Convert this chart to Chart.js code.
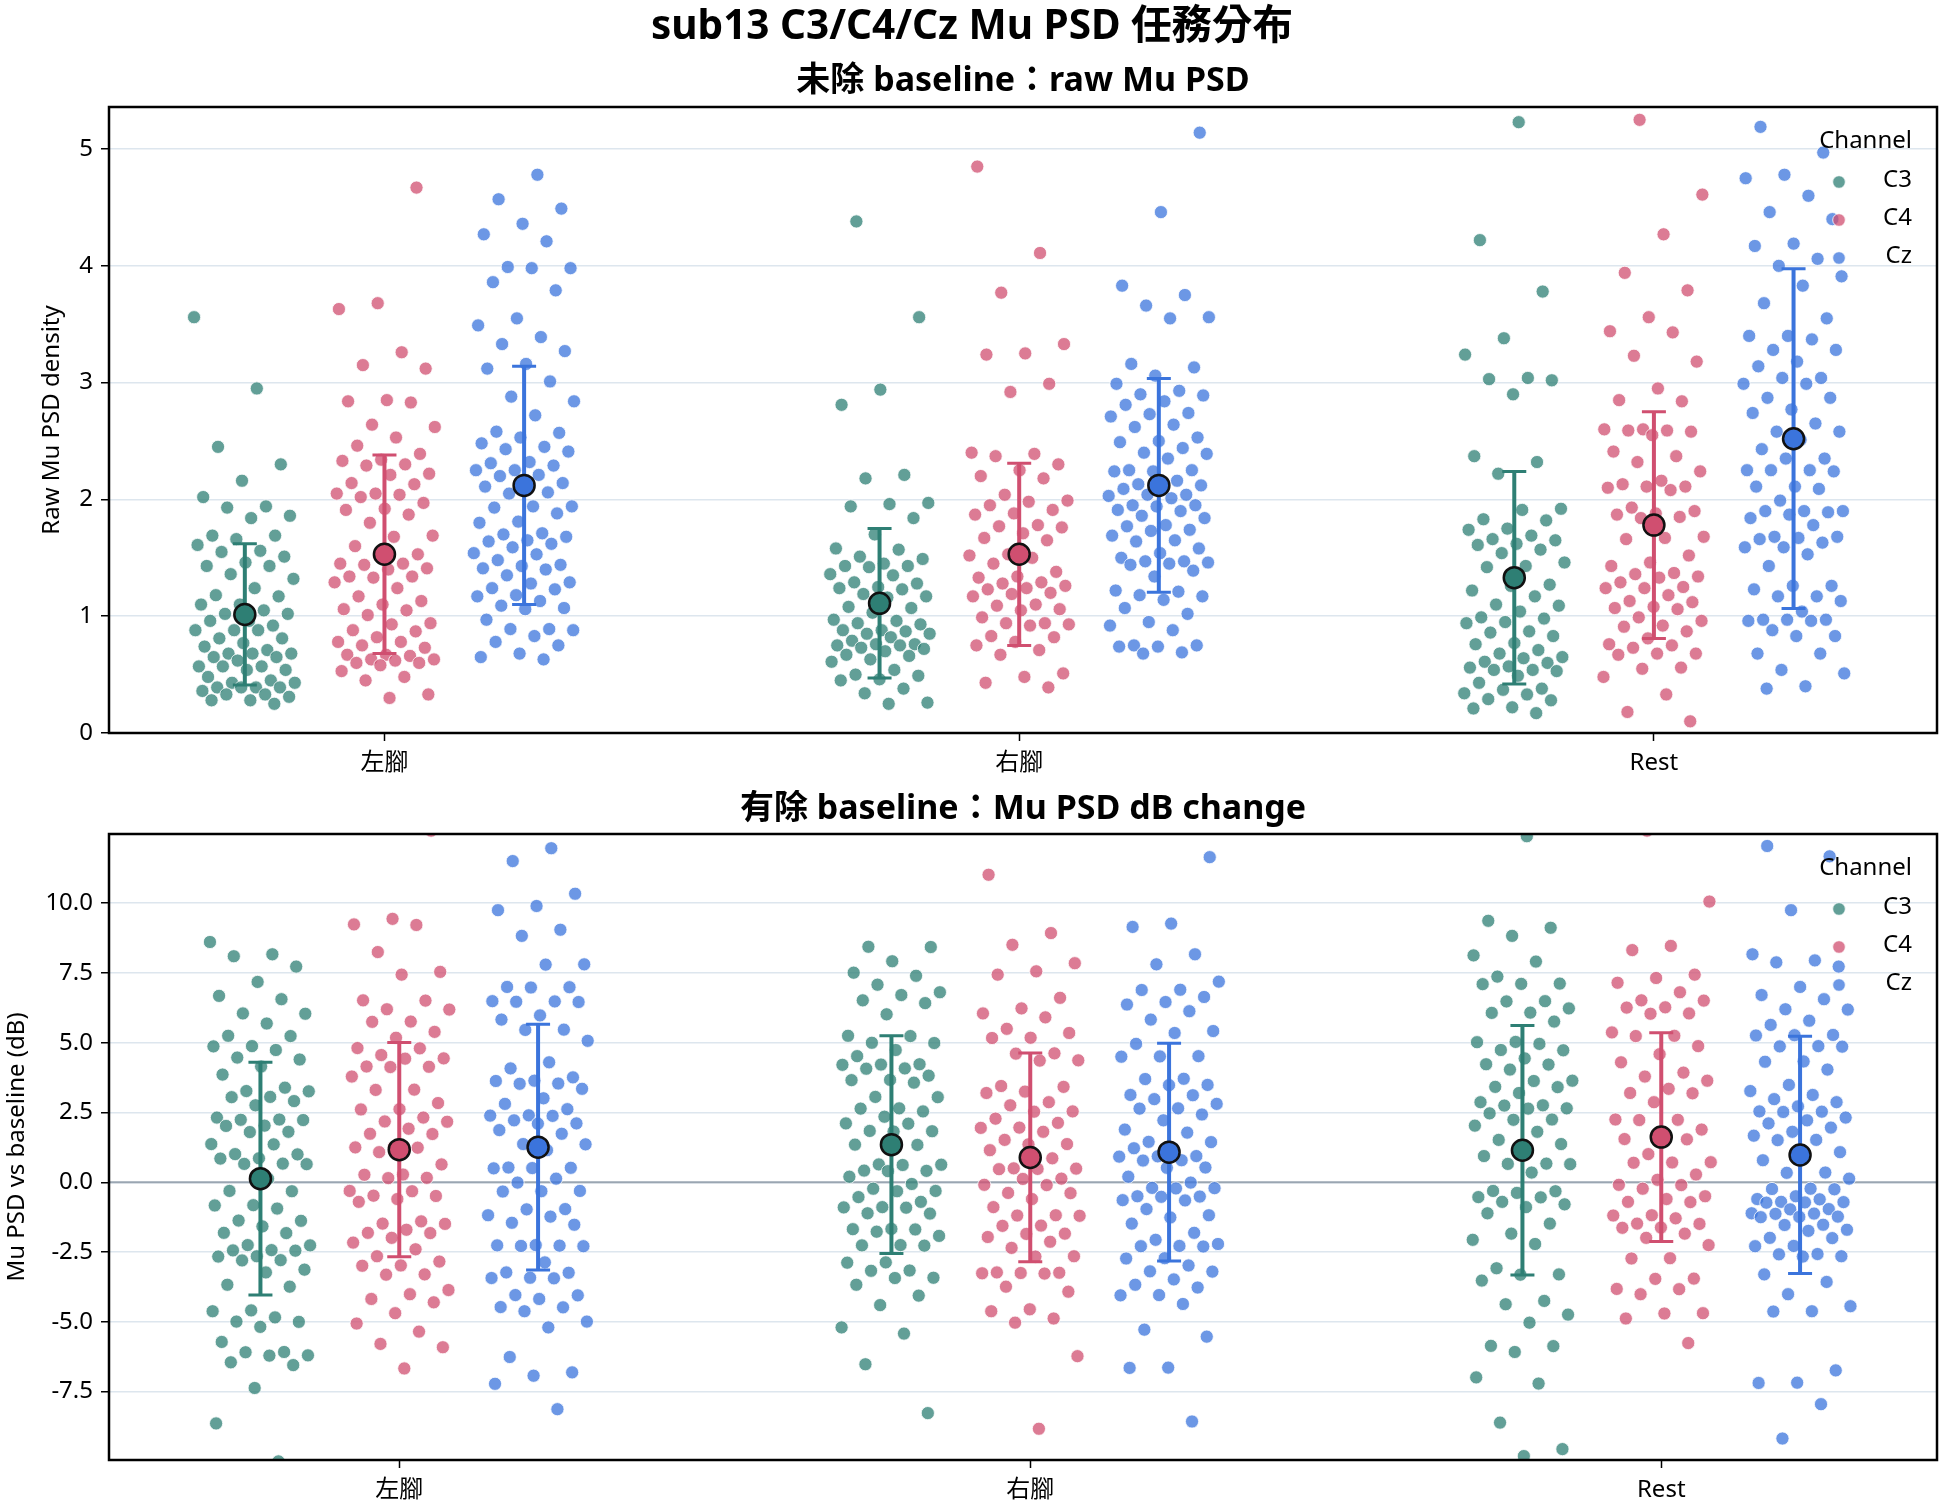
<!DOCTYPE html>
<html>
<head>
<meta charset="utf-8">
<script src="https://cdn.jsdelivr.net/npm/chart.js@4.4.1/dist/chart.umd.min.js"></script>
<style>
  html, body { margin: 0; padding: 0; background: #fff; }
  #wrap { position: relative; width: 1944px; height: 1512px; background: #fff; }
  canvas { position: absolute; left: 0; }
</style>
</head>
<body>
<div id="wrap">
  <canvas id="rawChart" width="1944" height="790" style="top:0"></canvas>
  <canvas id="dbChart" width="1944" height="722" style="top:790px"></canvas>
</div>
<script>
const categories = ['左腳', '右腳', 'Rest'];
const channels = ['C3', 'C4', 'Cz'];
const channelColors = ['#2e7f74', '#d04f70', '#3b74dc'];
const pointColors = ['rgba(46,127,116,0.75)', 'rgba(208,79,112,0.75)', 'rgba(59,116,220,0.75)'];

const rawTicks = [0, 1, 2, 3, 4, 5];
const dbTicks = [-7.5, -5, -2.5, 0, 2.5, 5, 7.5, 10];

// 未除 baseline：raw Mu PSD（每個 trial）
const rawC3Left = [3.56, 2.95, 2.45, 2.30, 2.16, 2.02, 1.94, 1.93, 1.86, 1.84, 1.69, 1.69, 1.66, 1.61, 1.56, 1.55, 1.51, 1.46, 1.43, 1.43, 1.36, 1.32, 1.24, 1.18, 1.17, 1.10, 1.10, 1.05, 1.02, 1.02, 0.96, 0.96, 0.92, 0.88, 0.88, 0.88, 0.81, 0.81, 0.77, 0.74, 0.71, 0.68, 0.68, 0.68, 0.65, 0.65, 0.62, 0.57, 0.57, 0.57, 0.54, 0.54, 0.48, 0.45, 0.43, 0.43, 0.39, 0.39, 0.39, 0.39, 0.36, 0.33, 0.33, 0.31, 0.28, 0.28, 0.25];
const rawC4Left = [4.67, 3.68, 3.63, 3.26, 3.15, 3.12, 2.85, 2.84, 2.83, 2.64, 2.62, 2.53, 2.46, 2.39, 2.34, 2.33, 2.30, 2.29, 2.22, 2.21, 2.14, 2.13, 2.05, 2.05, 2.04, 2.02, 1.97, 1.92, 1.91, 1.87, 1.80, 1.69, 1.68, 1.60, 1.53, 1.52, 1.45, 1.45, 1.44, 1.41, 1.40, 1.34, 1.34, 1.33, 1.29, 1.24, 1.17, 1.13, 1.10, 1.06, 1.05, 1.01, 0.94, 0.93, 0.88, 0.87, 0.82, 0.78, 0.78, 0.75, 0.73, 0.67, 0.67, 0.66, 0.63, 0.63, 0.62, 0.60, 0.60, 0.58, 0.53, 0.48, 0.45, 0.33, 0.30];
const rawCzLeft = [4.78, 4.57, 4.49, 4.36, 4.27, 4.21, 3.99, 3.98, 3.98, 3.86, 3.79, 3.55, 3.49, 3.39, 3.33, 3.27, 3.16, 3.12, 3.01, 2.88, 2.84, 2.72, 2.58, 2.57, 2.53, 2.48, 2.45, 2.43, 2.41, 2.32, 2.31, 2.29, 2.25, 2.25, 2.21, 2.20, 2.14, 2.12, 2.11, 2.06, 2.05, 1.94, 1.94, 1.93, 1.88, 1.81, 1.80, 1.71, 1.70, 1.68, 1.65, 1.64, 1.62, 1.59, 1.54, 1.53, 1.48, 1.44, 1.43, 1.41, 1.40, 1.35, 1.29, 1.28, 1.24, 1.23, 1.18, 1.17, 1.13, 1.09, 1.07, 1.06, 0.97, 0.89, 0.89, 0.88, 0.83, 0.78, 0.75, 0.68, 0.65, 0.63];
const rawC3Right = [4.38, 3.56, 2.94, 2.81, 2.21, 2.18, 1.97, 1.96, 1.94, 1.84, 1.70, 1.58, 1.57, 1.51, 1.49, 1.45, 1.43, 1.43, 1.42, 1.36, 1.35, 1.29, 1.28, 1.25, 1.24, 1.23, 1.19, 1.17, 1.16, 1.08, 1.07, 1.03, 0.97, 0.96, 0.94, 0.93, 0.88, 0.88, 0.87, 0.85, 0.85, 0.82, 0.79, 0.76, 0.76, 0.75, 0.75, 0.73, 0.72, 0.70, 0.67, 0.66, 0.63, 0.61, 0.54, 0.50, 0.49, 0.46, 0.45, 0.38, 0.34, 0.26, 0.25];
const rawC4Right = [4.85, 4.11, 3.77, 3.33, 3.25, 3.24, 2.99, 2.92, 2.40, 2.39, 2.37, 2.30, 2.25, 2.20, 2.18, 2.04, 1.99, 1.98, 1.95, 1.91, 1.88, 1.87, 1.78, 1.77, 1.76, 1.71, 1.67, 1.65, 1.53, 1.52, 1.50, 1.45, 1.38, 1.34, 1.33, 1.29, 1.28, 1.26, 1.24, 1.23, 1.20, 1.19, 1.17, 1.10, 1.09, 1.06, 1.05, 0.99, 0.94, 0.94, 0.93, 0.92, 0.83, 0.82, 0.78, 0.75, 0.71, 0.67, 0.51, 0.48, 0.43, 0.39];
const rawCzRight = [5.14, 4.46, 3.83, 3.75, 3.66, 3.56, 3.55, 3.16, 3.13, 3.06, 2.99, 2.93, 2.90, 2.89, 2.84, 2.81, 2.74, 2.73, 2.71, 2.64, 2.62, 2.53, 2.50, 2.49, 2.44, 2.40, 2.39, 2.35, 2.25, 2.25, 2.24, 2.24, 2.16, 2.13, 2.12, 2.10, 2.09, 2.04, 2.04, 2.03, 2.01, 1.95, 1.95, 1.94, 1.91, 1.90, 1.86, 1.84, 1.78, 1.77, 1.74, 1.73, 1.69, 1.65, 1.64, 1.58, 1.54, 1.50, 1.47, 1.47, 1.46, 1.45, 1.44, 1.39, 1.34, 1.22, 1.21, 1.18, 1.17, 1.14, 1.07, 1.02, 0.95, 0.92, 0.88, 0.75, 0.75, 0.74, 0.74, 0.69, 0.68];
const rawC3Rest = [5.23, 4.22, 3.78, 3.38, 3.24, 3.04, 3.03, 3.02, 2.90, 2.37, 2.32, 2.22, 1.92, 1.91, 1.83, 1.82, 1.75, 1.74, 1.69, 1.66, 1.65, 1.62, 1.61, 1.57, 1.54, 1.46, 1.43, 1.42, 1.27, 1.26, 1.22, 1.17, 1.10, 1.09, 1.04, 0.99, 0.98, 0.95, 0.94, 0.87, 0.86, 0.83, 0.77, 0.76, 0.71, 0.68, 0.65, 0.64, 0.61, 0.60, 0.57, 0.56, 0.54, 0.54, 0.53, 0.49, 0.43, 0.38, 0.37, 0.34, 0.33, 0.29, 0.28, 0.22, 0.21, 0.17];
const rawC4Rest = [5.25, 4.61, 4.27, 3.94, 3.79, 3.56, 3.44, 3.43, 3.23, 3.18, 2.95, 2.85, 2.84, 2.60, 2.60, 2.59, 2.59, 2.58, 2.55, 2.41, 2.37, 2.32, 2.24, 2.16, 2.13, 2.11, 2.11, 2.10, 2.08, 1.93, 1.90, 1.88, 1.87, 1.85, 1.84, 1.68, 1.67, 1.66, 1.52, 1.46, 1.43, 1.37, 1.36, 1.34, 1.33, 1.29, 1.25, 1.24, 1.24, 1.18, 1.13, 1.12, 1.08, 1.07, 1.06, 0.99, 0.96, 0.92, 0.91, 0.87, 0.81, 0.76, 0.75, 0.73, 0.68, 0.68, 0.67, 0.56, 0.55, 0.48, 0.33, 0.18, 0.10];
const rawCzRest = [5.19, 4.97, 4.78, 4.75, 4.60, 4.46, 4.40, 4.19, 4.17, 4.06, 4.00, 3.91, 3.83, 3.68, 3.55, 3.40, 3.40, 3.37, 3.28, 3.28, 3.18, 3.14, 3.04, 3.04, 2.99, 2.99, 2.87, 2.87, 2.77, 2.74, 2.65, 2.58, 2.58, 2.51, 2.43, 2.35, 2.35, 2.25, 2.25, 2.25, 2.24, 2.11, 2.11, 2.09, 1.99, 1.90, 1.90, 1.90, 1.89, 1.87, 1.84, 1.78, 1.68, 1.68, 1.67, 1.66, 1.63, 1.59, 1.59, 1.53, 1.43, 1.26, 1.26, 1.23, 1.17, 1.17, 1.13, 1.04, 0.97, 0.97, 0.97, 0.96, 0.96, 0.88, 0.83, 0.83, 0.68, 0.68, 0.54, 0.51, 0.40, 0.38];

// 每個 channel：[左腳, 右腳, Rest] 的平均與標準差
const rawMeanC3 = [1.015, 1.11, 1.33];
const rawMeanC4 = [1.53, 1.53, 1.78];
const rawMeanCz = [2.12, 2.12, 2.52];
const rawSdC3 = [0.605, 0.64, 0.91];
const rawSdC4 = [0.85, 0.78, 0.97];
const rawSdCz = [1.02, 0.915, 1.455];

// 有除 baseline：Mu PSD dB change
const dbC3Left = [8.61, 8.17, 8.10, 7.73, 7.18, 6.68, 6.56, 6.05, 6.04, 5.69, 5.25, 5.24, 4.88, 4.87, 4.74, 4.47, 4.40, 4.15, 3.86, 3.39, 3.27, 3.26, 3.06, 3.05, 2.91, 2.76, 2.32, 2.25, 2.24, 2.23, 2.03, 2.02, 1.81, 1.80, 1.37, 1.36, 1.01, 1.00, 0.86, 0.85, 0.67, 0.66, 0.65, 0.13, -0.31, -0.32, -0.82, -0.83, -0.94, -1.37, -1.38, -1.58, -1.81, -1.82, -2.25, -2.26, -2.43, -2.44, -2.45, -2.65, -2.66, -2.79, -2.80, -3.13, -3.23, -3.67, -3.74, -4.59, -4.62, -4.84, -4.99, -5.00, -5.18, -5.72, -6.08, -6.09, -6.20, -6.21, -6.45, -6.55, -7.37, -8.64, -10.0];
const dbC4Left = [12.6, 9.44, 9.24, 9.22, 8.25, 7.54, 7.44, 6.52, 6.51, 6.20, 6.19, 5.76, 5.75, 5.39, 5.18, 4.81, 4.80, 4.56, 4.44, 4.43, 4.15, 4.14, 4.13, 3.79, 3.32, 3.31, 2.84, 2.62, 2.61, 2.32, 2.18, 2.17, 1.92, 1.74, 1.73, 1.26, 1.25, 1.24, 1.08, 0.64, 0.28, 0.27, 0.16, 0.15, -0.31, -0.32, -0.48, -0.49, -0.60, -0.70, -1.40, -1.48, -1.49, -1.70, -1.81, -1.82, -1.99, -2.16, -2.40, -2.65, -2.84, -2.98, -2.99, -3.30, -3.31, -3.86, -4.01, -4.18, -4.30, -4.69, -5.06, -5.35, -5.79, -5.91, -6.67];
const dbCzLeft = [11.97, 11.51, 10.34, 9.90, 9.75, 9.05, 8.83, 7.81, 7.80, 7.00, 6.99, 6.98, 6.49, 6.48, 6.47, 6.46, 5.98, 5.83, 5.47, 5.46, 5.07, 4.30, 4.08, 3.76, 3.64, 3.63, 3.54, 3.53, 3.35, 3.01, 2.81, 2.62, 2.40, 2.39, 2.38, 2.22, 2.11, 2.10, 1.87, 1.74, 1.37, 1.36, 1.15, 0.53, 0.52, 0.51, 0.50, 0.13, -0.01, -0.31, -0.32, -0.33, -0.96, -0.97, -1.18, -1.23, -1.45, -1.52, -2.25, -2.26, -2.27, -2.28, -2.29, -2.87, -3.23, -3.24, -3.42, -3.43, -3.44, -4.04, -4.05, -4.18, -4.47, -4.48, -4.62, -4.99, -5.20, -6.26, -6.81, -6.93, -7.22, -8.13];
const dbC3Right = [8.44, 8.43, 7.92, 7.51, 7.40, 7.08, 6.81, 6.71, 6.52, 6.42, 6.02, 5.25, 5.24, 5.00, 4.99, 4.74, 4.52, 4.23, 4.22, 4.21, 4.08, 4.07, 3.82, 3.67, 3.66, 3.57, 3.06, 3.05, 2.65, 2.64, 2.54, 2.35, 2.11, 2.10, 1.84, 1.83, 1.82, 1.35, 1.34, 0.64, 0.63, 0.62, 0.42, 0.41, 0.40, 0.20, -0.06, -0.23, -0.31, -0.32, -0.53, -0.70, -0.89, -0.90, -0.91, -1.11, -1.12, -1.67, -1.68, -1.69, -1.77, -1.92, -2.25, -2.26, -2.27, -2.87, -2.88, -3.16, -3.17, -3.42, -3.43, -3.67, -4.06, -4.40, -5.20, -5.42, -6.52, -8.27];
const dbC4Right = [11.02, 8.93, 8.51, 7.85, 7.56, 7.44, 6.61, 6.23, 6.05, 5.91, 5.50, 5.35, 5.18, 5.17, 4.62, 4.61, 4.37, 4.36, 3.45, 3.42, 3.25, 3.20, 2.87, 2.76, 2.54, 2.53, 2.28, 2.13, 1.96, 1.95, 1.81, 1.52, 1.37, 1.36, 1.15, 0.86, 0.50, 0.49, 0.48, 0.47, 0.13, 0.12, -0.09, -0.10, -0.38, -0.39, -0.60, -0.89, -1.18, -1.19, -1.20, -1.55, -1.56, -1.84, -1.85, -1.96, -2.13, -2.35, -2.65, -2.66, -3.23, -3.24, -3.25, -3.26, -3.27, -3.74, -3.92, -4.55, -4.62, -4.88, -5.03, -6.23, -8.83];
const dbCzRight = [11.65, 9.27, 9.15, 8.17, 7.81, 7.19, 6.90, 6.89, 6.64, 6.46, 6.37, 6.13, 5.83, 5.42, 5.35, 4.96, 4.52, 4.51, 4.50, 3.71, 3.70, 3.49, 3.48, 3.13, 3.12, 2.98, 2.81, 2.65, 2.64, 2.43, 2.22, 1.89, 1.78, 1.45, 1.44, 1.23, 1.22, 0.94, 0.93, 0.92, 0.79, 0.78, 0.53, 0.52, 0.20, -0.01, -0.20, -0.21, -0.22, -0.50, -0.51, -0.52, -0.64, -0.65, -0.96, -1.18, -1.26, -1.48, -1.81, -2.06, -2.21, -2.28, -2.29, -2.30, -2.72, -2.73, -2.98, -3.19, -3.20, -3.48, -3.67, -3.77, -4.04, -4.05, -4.36, -5.28, -5.53, -6.64, -6.65, -8.57];
const dbC3Rest = [12.40, 9.37, 9.12, 8.83, 8.13, 7.91, 7.37, 7.12, 7.11, 7.10, 6.49, 6.48, 6.23, 6.08, 6.07, 5.76, 5.03, 5.02, 4.96, 4.74, 4.73, 4.44, 4.23, 4.22, 4.04, 3.64, 3.63, 3.42, 3.41, 3.20, 2.87, 2.76, 2.75, 2.65, 2.64, 2.47, 2.25, 2.24, 2.03, 1.81, 1.52, 1.37, 1.08, 0.94, 0.67, 0.66, 0.65, 0.35, -0.31, -0.32, -0.38, -0.53, -0.54, -0.70, -0.79, -0.89, -1.11, -1.48, -1.84, -2.06, -2.21, -3.08, -3.30, -3.31, -3.52, -4.25, -4.37, -4.74, -5.03, -5.86, -5.87, -6.08, -6.99, -7.21, -8.61, -9.56, -9.81];
const dbC4Rest = [12.6, 10.06, 8.47, 8.32, 7.44, 7.32, 7.15, 6.81, 6.52, 6.51, 6.27, 6.26, 6.05, 6.04, 5.37, 5.25, 5.24, 4.88, 4.59, 4.30, 3.93, 3.79, 3.64, 3.35, 3.20, 3.19, 2.87, 2.25, 2.24, 2.23, 1.89, 1.74, 1.55, 1.54, 1.01, 0.72, 0.71, 0.70, 0.28, 0.09, -0.09, -0.10, -0.23, -0.50, -0.60, -0.70, -0.71, -1.18, -1.19, -1.29, -1.48, -1.49, -1.62, -1.63, -1.84, -1.99, -2.25, -2.72, -2.73, -3.45, -3.46, -3.82, -3.83, -4.01, -4.69, -4.70, -4.88, -5.76];
const dbCzRest = [12.05, 11.68, 9.75, 8.17, 7.95, 7.88, 7.73, 7.00, 6.71, 6.56, 6.20, 6.19, 5.79, 5.64, 5.28, 5.27, 5.26, 4.88, 4.87, 4.86, 4.33, 4.32, 4.04, 3.49, 3.27, 3.13, 2.98, 2.87, 2.72, 2.54, 2.53, 2.52, 2.32, 2.22, 2.11, 1.96, 1.81, 1.67, 1.52, 1.51, 1.08, 0.94, 0.79, 0.35, 0.34, 0.13, -0.23, -0.24, -0.25, -0.50, -0.60, -0.61, -0.70, -0.71, -0.72, -0.73, -0.96, -0.97, -1.11, -1.12, -1.13, -1.23, -1.24, -1.25, -1.52, -1.53, -1.70, -1.74, -1.99, -2.00, -2.28, -2.29, -2.57, -2.58, -2.65, -2.66, -3.30, -3.57, -4.01, -4.44, -4.62, -4.63, -6.74, -7.18, -7.19, -7.95, -9.18];

const dbMeanC3 = [0.13, 1.35, 1.15];
const dbMeanC4 = [1.17, 0.89, 1.62];
const dbMeanCz = [1.26, 1.08, 0.98];
const dbSdC3 = [4.17, 3.90, 4.47];
const dbSdC4 = [3.84, 3.74, 3.74];
const dbSdCz = [4.40, 3.90, 4.25];

const FONT = "'Noto Sans', 'Noto Sans CJK TC', sans-serif";
const hueOffset = [-0.22, 0, 0.22];

// strip plot 的水平散開
function jitter(i, g) {
  const u = (i * 0.6180339887 + g * 0.2718) % 1;
  return (u - 0.5) * 0.16;
}

const framePlugin = {
  id: 'frame',
  beforeDatasetsDraw(chart, args, opts) {
    const { ctx, chartArea: a, scales } = chart;
    if (opts.zeroLine) {
      const y = scales.y.getPixelForValue(0);
      ctx.save();
      ctx.strokeStyle = '#9aa6b2';
      ctx.lineWidth = 2;
      ctx.beginPath();
      ctx.moveTo(a.left, y);
      ctx.lineTo(a.right, y);
      ctx.stroke();
      ctx.restore();
    }
  },
  beforeDatasetDraw(chart, args, opts) {
    if (args.meta.label !== 'mean') return;
    const { ctx, scales } = chart;
    ctx.save();
    for (let c = 0; c < 3; c++) {
      for (let k = 0; k < 3; k++) {
        const x = scales.x.getPixelForValue(k + hueOffset[c]);
        const m = opts.means[c][k], s = opts.sds[c][k];
        const y1 = scales.y.getPixelForValue(m + s);
        const y2 = scales.y.getPixelForValue(m - s);
        ctx.strokeStyle = channelColors[c];
        ctx.lineWidth = 4;
        ctx.beginPath();
        ctx.moveTo(x, y1);
        ctx.lineTo(x, y2);
        ctx.stroke();
        ctx.lineWidth = 3;
        ctx.beginPath();
        ctx.moveTo(x - 12, y1); ctx.lineTo(x + 12, y1);
        ctx.moveTo(x - 12, y2); ctx.lineTo(x + 12, y2);
        ctx.stroke();
      }
    }
    ctx.restore();
  },
  afterDraw(chart, args, opts) {
    const { ctx, chartArea: a } = chart;
    ctx.save();
    ctx.strokeStyle = '#000';
    ctx.lineWidth = 2.5;
    ctx.strokeRect(a.left, a.top, a.right - a.left, a.bottom - a.top);

    ctx.fillStyle = '#000';
    ctx.textAlign = 'center';
    ctx.textBaseline = 'middle';
    (opts.titles || []).forEach(t => {
      ctx.font = t.font;
      ctx.fillText(t.text, t.x, t.y);
    });

    // y 軸標題
    ctx.save();
    ctx.translate(opts.yTitleX, (a.top + a.bottom) / 2);
    ctx.rotate(-Math.PI / 2);
    ctx.font = '24px ' + FONT;
    ctx.fillText(opts.yTitle, 0, 0);
    ctx.restore();

    // legend
    const lx = a.right - 25;
    ctx.textAlign = 'right';
    ctx.font = '24px ' + FONT;
    ctx.fillText('Channel', lx, a.top + 34);
    channels.forEach((ch, i) => {
      const y = a.top + 73 + i * 38;
      ctx.fillStyle = '#000';
      ctx.fillText(ch, lx, y);
      ctx.beginPath();
      ctx.arc(a.right - 98, y + 2, 6.3, 0, Math.PI * 2);
      ctx.fillStyle = pointColors[i];
      ctx.fill();
      ctx.strokeStyle = '#fff';
      ctx.lineWidth = 0.8;
      ctx.stroke();
    });
    ctx.restore();
  }
};

function makeChart(id, cfg) {
  const datasets = [];
  const meanData = [], meanColors = [];
  for (let c = 0; c < 3; c++) {
    for (let k = 0; k < 3; k++) {
      meanData.push({ x: k + hueOffset[c], y: cfg.means[c][k] });
      meanColors.push(channelColors[c]);
    }
  }
  datasets.push({
    label: 'mean',
    data: meanData,
    order: 0,
    clip: 0,
    pointRadius: 10.5,
    pointBackgroundColor: meanColors,
    pointBorderColor: '#111',
    pointBorderWidth: 2.5
  });
  for (let c = 0; c < 3; c++) {
    const pts = [];
    for (let k = 0; k < 3; k++) {
      cfg.groups[c][k].forEach((v, i) => {
        pts.push({ x: k + hueOffset[c] + jitter(i, c * 3 + k), y: v });
      });
    }
    datasets.push({
      label: channels[c],
      data: pts,
      order: 1 + (2 - c),
      clip: 0,
      pointRadius: 6.6,
      pointBackgroundColor: pointColors[c],
      pointBorderColor: '#ffffff',
      pointBorderWidth: 0.8
    });
  }

  return new Chart(document.getElementById(id), {
    type: 'scatter',
    data: { datasets },
    plugins: [framePlugin],
    options: {
      responsive: false,
      devicePixelRatio: 1,
      animation: false,
      events: [],
      layout: { autoPadding: false, padding: cfg.padding },
      plugins: {
        legend: { display: false },
        tooltip: { enabled: false },
        frame: {
          means: cfg.means, sds: cfg.sds, zeroLine: cfg.zeroLine,
          titles: cfg.titles, yTitle: cfg.yTitle, yTitleX: cfg.yTitleX
        }
      },
      scales: {
        x: {
          type: 'linear',
          min: cfg.xMin, max: cfg.xMax,
          afterBuildTicks: s => { s.ticks = [0, 1, 2].map(v => ({ value: v })); },
          afterFit: s => { s.height = 50; },
          border: { display: false },
          grid: { drawOnChartArea: false, tickColor: '#000', tickLength: 8, tickWidth: 1.5 },
          ticks: {
            callback: v => categories[v],
            font: { family: FONT, size: 24 }, color: '#000',
            padding: 8, maxRotation: 0, autoSkip: false
          }
        },
        y: {
          min: cfg.yMin, max: cfg.yMax,
          afterBuildTicks: s => { s.ticks = cfg.ticks.map(v => ({ value: v })); },
          afterFit: s => { s.width = 109; },
          border: { display: false },
          grid: { color: '#dde6ee', lineWidth: 1.5, tickColor: '#000', tickLength: 8, tickWidth: 1.5 },
          ticks: {
            callback: cfg.tickFormat,
            font: { family: FONT, size: 24 }, color: '#000',
            padding: 8, autoSkip: false
          }
        }
      }
    }
  });
}

makeChart('rawChart', {
  groups: [[rawC3Left, rawC3Right, rawC3Rest], [rawC4Left, rawC4Right, rawC4Rest], [rawCzLeft, rawCzRight, rawCzRest]],
  means: [rawMeanC3, rawMeanC4, rawMeanCz],
  sds: [rawSdC3, rawSdC4, rawSdCz],
  xMin: -0.434, xMax: 2.446,
  yMin: 0, yMax: 5.36,
  ticks: rawTicks,
  tickFormat: v => String(v),
  padding: { left: 0, right: 7, top: 107, bottom: 7 },
  zeroLine: false,
  yTitle: 'Raw Mu PSD density', yTitleX: 52,
  titles: [
    { text: 'sub13 C3/C4/Cz Mu PSD 任務分布', x: 972, y: 27.5, font: 'bold 40.5px ' + FONT },
    { text: '未除 baseline：raw Mu PSD', x: 1023, y: 81.5, font: 'bold 34px ' + FONT }
  ]
});

makeChart('dbChart', {
  groups: [[dbC3Left, dbC3Right, dbC3Rest], [dbC4Left, dbC4Right, dbC4Rest], [dbCzLeft, dbCzRight, dbCzRest]],
  means: [dbMeanC3, dbMeanC4, dbMeanCz],
  sds: [dbSdC3, dbSdC4, dbSdCz],
  xMin: -0.46, xMax: 2.437,
  yMin: -9.95, yMax: 12.48,
  ticks: dbTicks,
  tickFormat: v => v.toFixed(1),
  padding: { left: 0, right: 7, top: 44, bottom: 2 },
  zeroLine: true,
  yTitle: 'Mu PSD vs baseline (dB)', yTitleX: 17,
  titles: [
    { text: '有除 baseline：Mu PSD dB change', x: 1023, y: 19.5, font: 'bold 34px ' + FONT }
  ]
});
</script>
</body>
</html>
